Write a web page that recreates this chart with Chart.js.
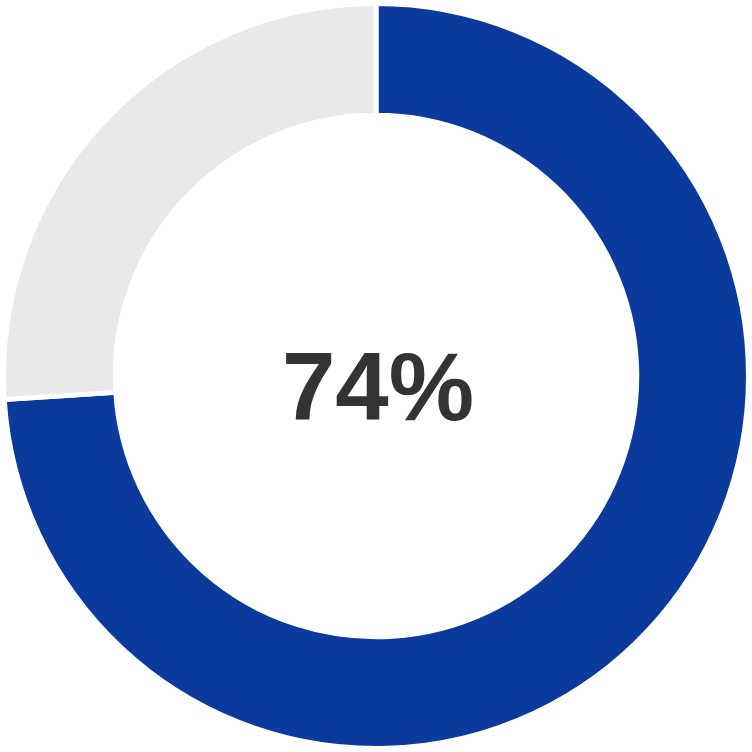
<!DOCTYPE html>
<html>
<head>
<meta charset="utf-8">
<script src="https://cdn.jsdelivr.net/npm/chart.js@4/dist/chart.umd.min.js"></script>
<style>
  html, body { margin: 0; padding: 0; background: #fff; }
  #wrap { width: 752px; height: 752px; }
</style>
</head>
<body>
<div id="wrap"><canvas id="chart"></canvas></div>
<script>
const labels = ['Done', 'Remaining'];
const values = [74, 26];
const colors = ['#0a3a9b', '#e9e9e9'];
const centerText = '74%';

const centerLabel = {
  id: 'centerLabel',
  afterDraw(chart) {
    const { ctx } = chart;
    const arc = chart.getDatasetMeta(0).data[0];
    ctx.save();
    ctx.font = 'bold 96px "Liberation Sans", Arial, sans-serif';
    ctx.fillStyle = '#333333';
    ctx.textAlign = 'center';
    ctx.textBaseline = 'alphabetic';
    ctx.fillText(centerText, arc.x + 2, arc.y + 44);
    ctx.restore();
  }
};

new Chart(document.getElementById('chart'), {
  type: 'doughnut',
  data: {
    labels,
    datasets: [{
      data: values,
      backgroundColor: colors,
      borderColor: '#ffffff',
      borderWidth: 5
    }]
  },
  options: {
    responsive: true,
    maintainAspectRatio: false,
    animation: false,
    cutout: '70%',
    layout: { padding: 1 },
    plugins: {
      legend: { display: false },
      tooltip: { enabled: false }
    }
  },
  plugins: [centerLabel]
});
</script>
</body>
</html>
